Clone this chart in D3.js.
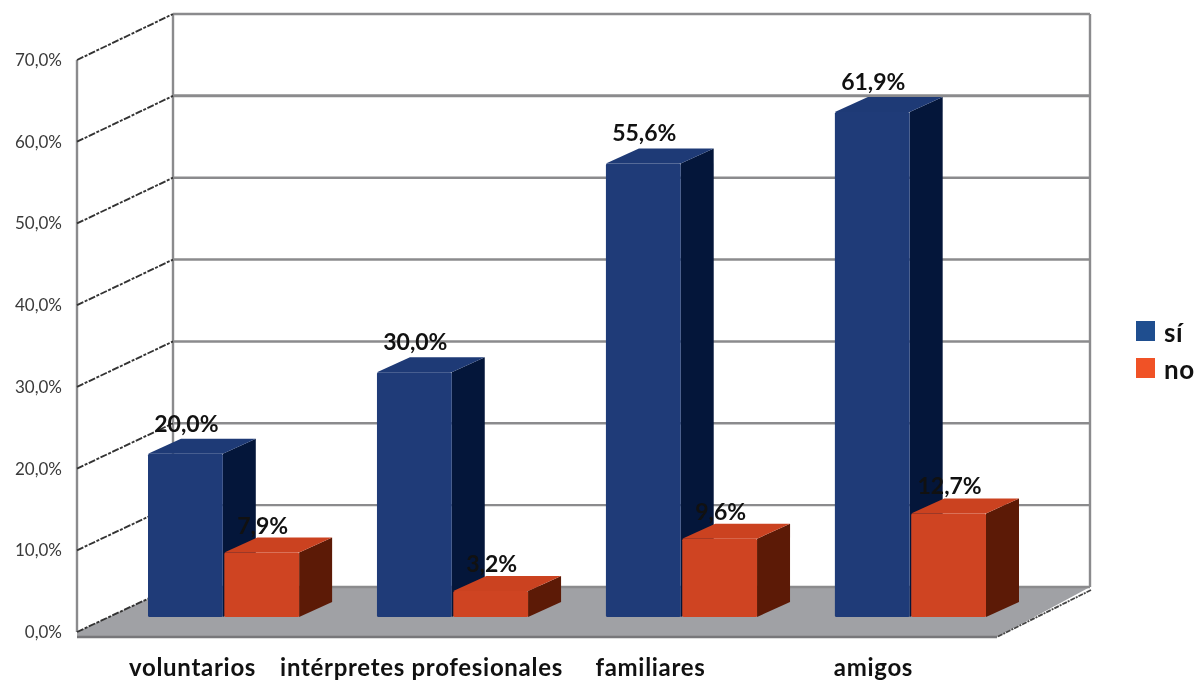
<!DOCTYPE html>
<html><head><meta charset="utf-8">
<script src="https://cdn.jsdelivr.net/npm/d3@7/dist/d3.min.js"></script>
<style>html,body{margin:0;padding:0;background:#fff}svg{display:block;filter:blur(0.7px)}text{font-family:Lato,"Open Sans",sans-serif}</style>
</head><body><svg id="c" width="1201" height="680"></svg>
<script>
const categories = ["voluntarios","intérpretes profesionales","familiares","amigos"];
const seriesNames = ["sí","no"];
const siValues = [20.0,30.0,55.6,61.9];
const noValues = [7.9,3.2,9.6,12.7];
const tickValues = [0,10,20,30,40,50,60,70];
const fmt = v => v.toFixed(1).replace(".",",")+"%";
const faceColors = ["#1f3b78","#cf4422"];
const topColors = ["#1e3a76","#cb4220"];
const sideColors = ["#04163a","#5c1a06"];
const legendColors = ["#1f4e8f","#f05226"];

const svg = d3.select("#c");
const yBack = d3.scaleLinear().domain([0,70]).range([587,14]);
const yFront = d3.scaleLinear().domain([0,70]).range([632,60]);
const yBar = d3.scaleLinear().domain([0,70]).range([617,46]);
const x0 = d3.scaleBand().domain(categories).range([148,986]).paddingInner(0.34);
const x1 = d3.scaleBand().domain(seriesNames).range([0,x0.bandwidth()]).paddingInner(0.02);
const dx = 33, dy = -15;
const L = 173, R = 1090, FL = 77, FR = 997;
const grid = "#8b8b8d";

// floor
svg.append("polygon").attr("points",[[FL,632],[L,587],[R,587],[FR,637],[FL,637]].join(" ")).attr("fill","#a0a1a5");
svg.append("line").attr("x1",FL).attr("x2",FR).attr("y1",637).attr("y2",637).attr("stroke","#77777a").attr("stroke-width",2.5);
svg.append("line").attr("x1",R+1).attr("x2",FR).attr("y1",590).attr("y2",637).attr("stroke","#444").attr("stroke-width",1.8).attr("stroke-dasharray","5 1 2 1");

// walls
svg.selectAll("line.wall").data([[FL,60,FL,632],[L,14,L,587],[R,14,R,587]]).join("line")
  .attr("class","wall").attr("x1",d=>d[0]).attr("y1",d=>d[1]).attr("x2",d=>d[2]).attr("y2",d=>d[3])
  .attr("stroke",grid).attr("stroke-width",2.4);

// grid
svg.selectAll("line.gh").data(tickValues).join("line").attr("class","gh")
  .attr("x1",L).attr("x2",R).attr("y1",d=>yBack(d)).attr("y2",d=>yBack(d))
  .attr("stroke",grid).attr("stroke-width",d=>d===60?3:2.4);
svg.selectAll("line.gd").data(tickValues).join("line").attr("class","gd")
  .attr("x1",FL).attr("x2",L).attr("y1",d=>yFront(d)).attr("y2",d=>yBack(d))
  .attr("stroke","#333").attr("stroke-width",1.9).attr("stroke-dasharray","7 1.5 3 1.5");

// tick labels
svg.selectAll("text.tick").data(tickValues).join("text").attr("class","tick")
  .attr("x",62).attr("y",d=>yFront(d)+6).attr("text-anchor","end")
  .attr("font-size",17).attr("fill","#3a3a3a").text(d=>fmt(d));

// bars
const rows = categories.flatMap((c,i)=>[
  {c,s:0,name:seriesNames[0],v:siValues[i]},
  {c,s:1,name:seriesNames[1],v:noValues[i]}]);
const bars = svg.selectAll("g.bar").data(rows).join("g").attr("class","bar");
const bx = d => x0(d.c)+x1(d.name), bw = x1.bandwidth(), base = yBar(0);
bars.append("polygon").attr("fill",d=>sideColors[d.s])
  .attr("points",d=>{const r=bx(d)+bw,t=yBar(d.v);return [[r,t],[r+dx,t+dy],[r+dx,base+dy],[r,base]].join(" ")});
bars.append("polygon").attr("fill",d=>topColors[d.s])
  .attr("points",d=>{const l=bx(d),r=l+bw,t=yBar(d.v);return [[l,t],[l+dx,t+dy],[r+dx,t+dy],[r,t]].join(" ")});
bars.append("rect").attr("x",bx).attr("width",bw).attr("y",d=>yBar(d.v)).attr("height",d=>base-yBar(d.v))
  .attr("fill",d=>faceColors[d.s]).attr("rx",1.5);

// value labels
svg.selectAll("text.val").data(rows).join("text").attr("class","val")
  .attr("x",d=>bx(d)+bw/2+1).attr("y",d=>yBar(d.v)-(d.s===0?22:19)).attr("text-anchor","middle")
  .attr("font-size",23).attr("font-weight",700).attr("fill","#111").text(d=>fmt(d.v));

// category labels
svg.selectAll("text.cat").data(categories).join("text").attr("class","cat")
  .attr("x",(d,i)=>x0(d)+x0.bandwidth()/2-(i===3?37:31)).attr("y",676).attr("text-anchor","middle")
  .attr("font-size",24).attr("letter-spacing",0.7).attr("font-weight",700).attr("fill","#111").text(d=>d);

// legend
const lg = svg.selectAll("g.lg").data(seriesNames).join("g").attr("class","lg")
  .attr("transform",(d,i)=>`translate(1136,${321+i*37})`);
lg.append("rect").attr("width",19).attr("height",20).attr("fill",(d,i)=>legendColors[i]);
lg.append("text").attr("x",28).attr("y",21).attr("font-size",26).attr("letter-spacing",0.6).attr("font-weight",700).attr("fill","#111").text(d=>d);
</script></body></html>
